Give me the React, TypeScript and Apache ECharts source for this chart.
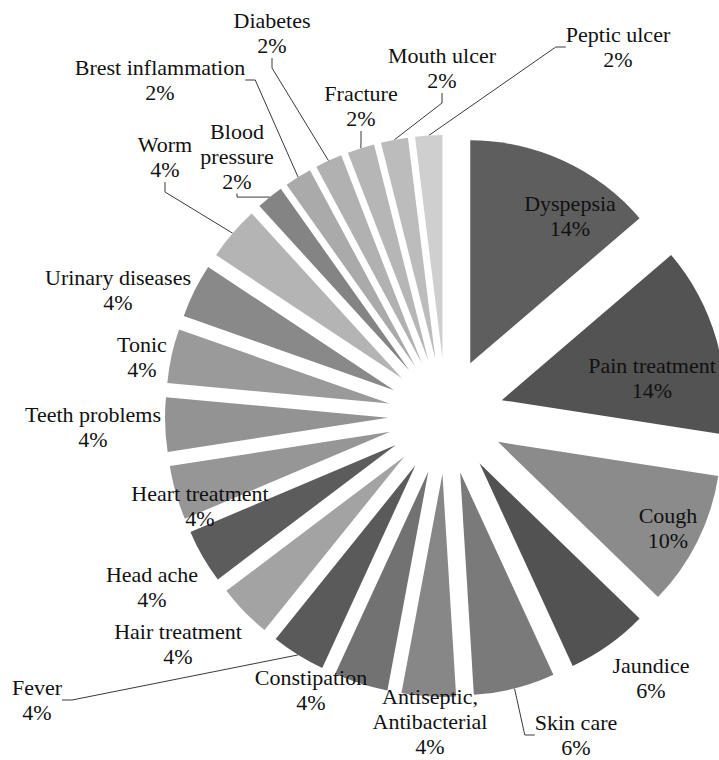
import React, { useEffect, useRef } from "react";
import * as echarts from "echarts";

// ---- data ----
const categories = [
  "Dyspepsia",
  "Pain treatment",
  "Cough",
  "Jaundice",
  "Skin care",
  "Antiseptic,\nAntibacterial",
  "Constipation",
  "Fever",
  "Hair treatment",
  "Head ache",
  "Heart treatment",
  "Teeth problems",
  "Tonic",
  "Urinary diseases",
  "Worm",
  "Blood\npressure",
  "Brest inflammation",
  "Diabetes",
  "Fracture",
  "Mouth ulcer",
  "Peptic ulcer",
];
const percents = [14, 14, 10, 6, 6, 4, 4, 4, 4, 4, 4, 4, 4, 4, 4, 2, 2, 2, 2, 2, 2];

// ---- styles / layout ----
const sliceColors = [
  "#5e5e5e", "#535353", "#8b8b8b", "#525252", "#7a7a7a", "#878787", "#727272",
  "#5a5a5a", "#a3a3a3", "#5c5c5c", "#969696", "#939393", "#9a9a9a", "#898989",
  "#b4b4b4", "#848484", "#aaaaaa", "#b1b1b1", "#b6b6b6", "#bcbcbc", "#cfcfcf",
];
const labelCenters: number[][] = [
  [570, 216], [652, 378], [668, 528], [651, 678], [576, 735], [430, 721], [311, 690],
  [37, 700], [178, 644], [152, 587], [200, 506], [93, 427], [142, 357], [118, 290],
  [165, 157], [237, 156], [160, 80], [272, 33], [361, 106], [442, 68], [618, 47],
];
const withLeader = [
  false, false, false, false, true, false, false, true, false, false, false,
  false, false, false, true, true, true, true, true, true, true,
];

const FONT = "Times New Roman, Liberation Serif, serif";
const CENTER = [446, 416];
const RADIUS = 223;
const EXPLODE = 58;

export default function App() {
  const ref = useRef<HTMLDivElement>(null);

  useEffect(() => {
    if (!ref.current) return;
    const chart = echarts.init(ref.current, undefined, { renderer: "svg" });
    const sliceData = categories.map((name, i) => ({
      name,
      value: percents[i],
      selected: true,
      itemStyle: { color: sliceColors[i] },
    }));
    const labelData = categories.map((name, i) => ({
      name,
      value: percents[i],
      labelLine: { show: withLeader[i] },
    }));
    chart.setOption({
      animation: false,
      backgroundColor: "#ffffff",
      textStyle: { fontFamily: FONT },
      series: [
        {
          type: "pie",
          center: CENTER,
          radius: [0, RADIUS],
          startAngle: 90,
          clockwise: true,
          selectedMode: "multiple",
          selectedOffset: EXPLODE,
          silent: true,
          avoidLabelOverlap: false,
          itemStyle: { borderWidth: 0 },
          label: { show: false },
          labelLine: { show: false },
          emphasis: { disabled: true },
          data: sliceData,
        },
        {
          type: "pie",
          center: CENTER,
          radius: [0, RADIUS + EXPLODE],
          startAngle: 90,
          clockwise: true,
          silent: true,
          avoidLabelOverlap: false,
          itemStyle: { color: "rgba(0,0,0,0)", borderWidth: 0 },
          emphasis: { disabled: true },
          label: {
            show: true,
            position: "outside",
            bleedMargin: -400,
            formatter: (p: any) => `${p.name}\n${p.value}%`,
            fontFamily: FONT,
            fontSize: 22,
            lineHeight: 25,
            color: "#111111",
            align: "center",
          },
          labelLine: {
            length: 8,
            length2: 10,
            lineStyle: { color: "#3a3a3a", width: 1 },
          },
          labelLayout: (params: any) => {
            const pos = labelCenters[params.dataIndex];
            return { x: pos[0], y: pos[1], align: "center", verticalAlign: "middle" };
          },
          data: labelData,
        },
      ],
    });
    return () => chart.dispose();
  }, []);

  return (
    <div
      ref={ref}
      style={{ position: "absolute", left: 0, top: 0, width: 719, height: 760, background: "#fff" }}
    />
  );
}
